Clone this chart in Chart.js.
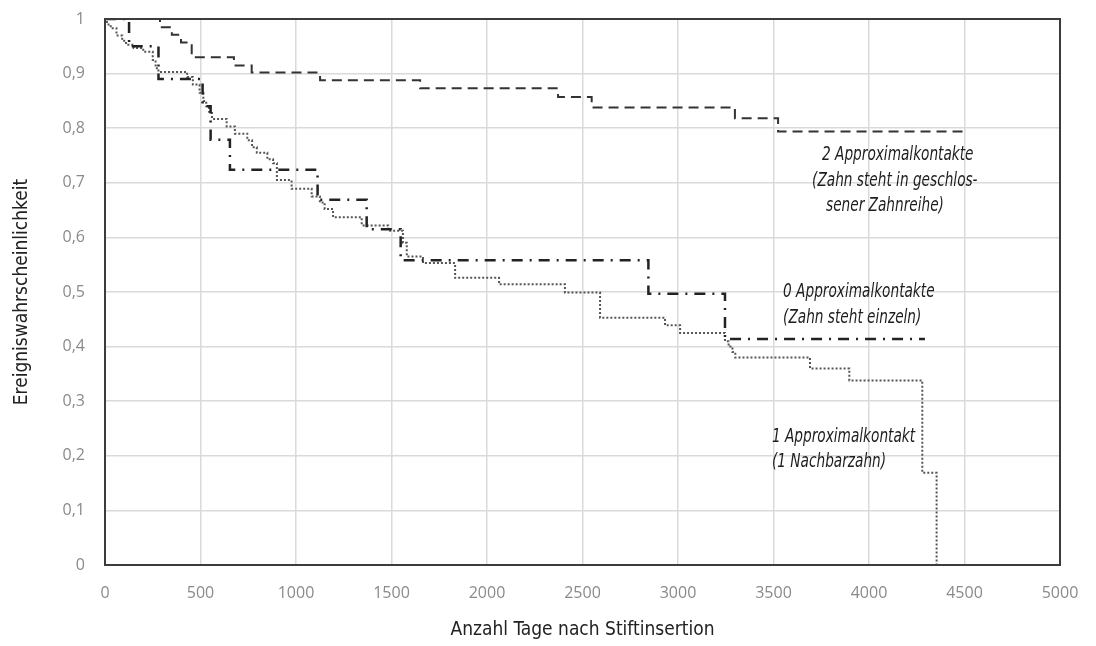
<!DOCTYPE html>
<html>
<head>
<meta charset="utf-8">
<script src="https://cdn.jsdelivr.net/npm/chart.js@4.4.1/dist/chart.umd.min.js"></script>
<style>
  body { margin: 0; background: #fff; }
  #wrap { width: 1096px; height: 646px; }
</style>
</head>
<body>
<div id="wrap"><canvas id="kmChart" width="1096" height="646"></canvas></div>
<script>
// Kaplan-Meier Kurven, Werte
const tage2 = [0, 288, 350, 398, 454, 675, 768, 1126, 1650, 2372, 2548, 3298, 3524, 4500];
const surv2 = [1, 0.985, 0.971, 0.957, 0.93, 0.915, 0.902, 0.888, 0.873, 0.857, 0.838, 0.818, 0.794, 0.794];

const tage0 = [0, 126, 280, 511, 553, 654, 1113, 1370, 1548, 2845, 3246, 4293];
const surv0 = [1, 0.95, 0.89, 0.84, 0.779, 0.724, 0.669, 0.615, 0.558, 0.497, 0.414, 0.414];

const tage1 = [0, 10, 30, 60, 90, 110, 150, 200, 250, 265, 280, 430, 460, 495, 515, 530, 545, 560, 637, 680,
  745, 770, 795, 850, 880, 900, 977, 1082, 1125, 1150, 1194, 1344, 1483, 1560, 1580, 1665, 1833, 2063,
  2408, 2592, 2932, 3011, 3246, 3265, 3285, 3300, 3691, 3897, 4279, 4354];
const surv1 = [1, 0.99, 0.983, 0.97, 0.96, 0.953, 0.947, 0.94, 0.925, 0.91, 0.903, 0.894, 0.88, 0.865, 0.85, 0.84, 0.83, 0.817, 0.803, 0.79,
  0.778, 0.765, 0.755, 0.743, 0.736, 0.705, 0.689, 0.675, 0.664, 0.652, 0.637, 0.622, 0.612, 0.59, 0.565, 0.553, 0.526, 0.514,
  0.499, 0.453, 0.439, 0.425, 0.41, 0.4, 0.39, 0.38, 0.36, 0.338, 0.169, 0];

const xTicks = [0, 500, 1000, 1500, 2000, 2500, 3000, 3500, 4000, 4500, 5000];
const yTicks = [0, 0.1, 0.2, 0.3, 0.4, 0.5, 0.6, 0.7, 0.8, 0.9, 1];

// Beschriftungen an den Kurven (Tage, Wahrscheinlichkeit)
const notes = [
  { text: '2 Approximalkontakte', x: 3754, y: 0.751 },
  { text: '(Zahn steht in geschlos-', x: 3702, y: 0.703 },
  { text: 'sener Zahnreihe)', x: 3775, y: 0.657 },
  { text: '0 Approximalkontakte', x: 3550, y: 0.5 },
  { text: '(Zahn steht einzeln)', x: 3550, y: 0.452 },
  { text: '1 Approximalkontakt', x: 3492, y: 0.234 },
  { text: '(1 Nachbarzahn)', x: 3492, y: 0.189 }
];

const toPoints = (xs, ys) => xs.map((x, i) => ({ x: x, y: ys[i] }));
const condensed = "'DejaVu Sans Condensed', 'Liberation Sans Narrow', sans-serif";

const framePlugin = {
  id: 'frame',
  afterDraw(chart) {
    const { ctx, chartArea: a, scales } = chart;
    ctx.save();
    ctx.strokeStyle = '#3c3c3c';
    ctx.lineWidth = 2;
    ctx.strokeRect(a.left, a.top, a.right - a.left, a.bottom - a.top);
    ctx.restore();
    // schmal gesetzte Kursivschrift wie im Original
    notes.forEach(n => {
      const px = scales.x.getPixelForValue(n.x);
      const py = scales.y.getPixelForValue(n.y);
      ctx.save();
      ctx.translate(px, py);
      ctx.scale(0.8, 1);
      ctx.fillStyle = '#1e1e1e';
      ctx.font = 'italic 19px ' + condensed;
      ctx.textBaseline = 'middle';
      ctx.textAlign = 'left';
      ctx.fillText(n.text, 0, 0);
      ctx.restore();
    });
  }
};

const ctx = document.getElementById('kmChart').getContext('2d');

const kmChart = new Chart(ctx, {
    type: 'line',
    data: {
        datasets: [{
            label: '2 Approximalkontakte',
            data: toPoints(tage2, surv2),
            borderColor: '#333',
            borderWidth: 2,
            borderDash: [10, 6],
            stepped: 'before',
            pointRadius: 0,
            fill: false
        }, {
            label: '0 Approximalkontakte',
            data: toPoints(tage0, surv0),
            borderColor: '#222',
            borderWidth: 2.5,
            borderDash: [11, 7, 2, 7],
            stepped: 'before',
            pointRadius: 0,
            fill: false
        }, {
            label: '1 Approximalkontakt',
            data: toPoints(tage1, surv1),
            borderColor: '#555',
            borderWidth: 2,
            borderDash: [2, 2],
            stepped: 'before',
            pointRadius: 0,
            fill: false
        }]
    },
    options: {
        responsive: false,
        animation: false,
        layout: { padding: { top: 19, right: 36, left: 0, bottom: 0 } },
        plugins: { legend: { display: false }, tooltip: { enabled: false } },
        scales: {
            x: {
                type: 'linear',
                min: 0,
                max: 5000,
                afterBuildTicks: s => { s.ticks = xTicks.map(v => ({ value: v })); },
                afterFit: s => { s.height = 81; s.paddingLeft = 0; s.paddingRight = 0; },
                grid: { color: '#dadada', lineWidth: 1.5, drawTicks: false },
                border: { display: false },
                ticks: {
                    padding: 19,
                    color: '#8a8a8a',
                    font: { family: "'Open Sans', sans-serif", size: 16 },
                    callback: v => String(v)
                },
                title: {
                    display: true,
                    text: 'Anzahl Tage nach Stiftinsertion',
                    color: '#222',
                    font: { family: condensed, size: 19 },
                    padding: { bottom: 5 }
                }
            },
            y: {
                min: 0,
                max: 1,
                afterBuildTicks: s => { s.ticks = yTicks.map(v => ({ value: v })); },
                afterFit: s => { s.width = 105; s.paddingTop = 0; s.paddingBottom = 0; },
                grid: { color: '#dadada', lineWidth: 1.5, drawTicks: false },
                border: { display: false },
                ticks: {
                    padding: 20,
                    color: '#8a8a8a',
                    font: { family: "'Open Sans', sans-serif", size: 16 },
                    callback: v => String(Number(v.toFixed(1))).replace('.', ',')
                },
                title: {
                    display: true,
                    text: 'Ereigniswahrscheinlichkeit',
                    color: '#222',
                    font: { family: condensed, size: 19 },
                    padding: { top: 11 }
                }
            }
        }
    },
    plugins: [framePlugin]
});
</script>
</body>
</html>
